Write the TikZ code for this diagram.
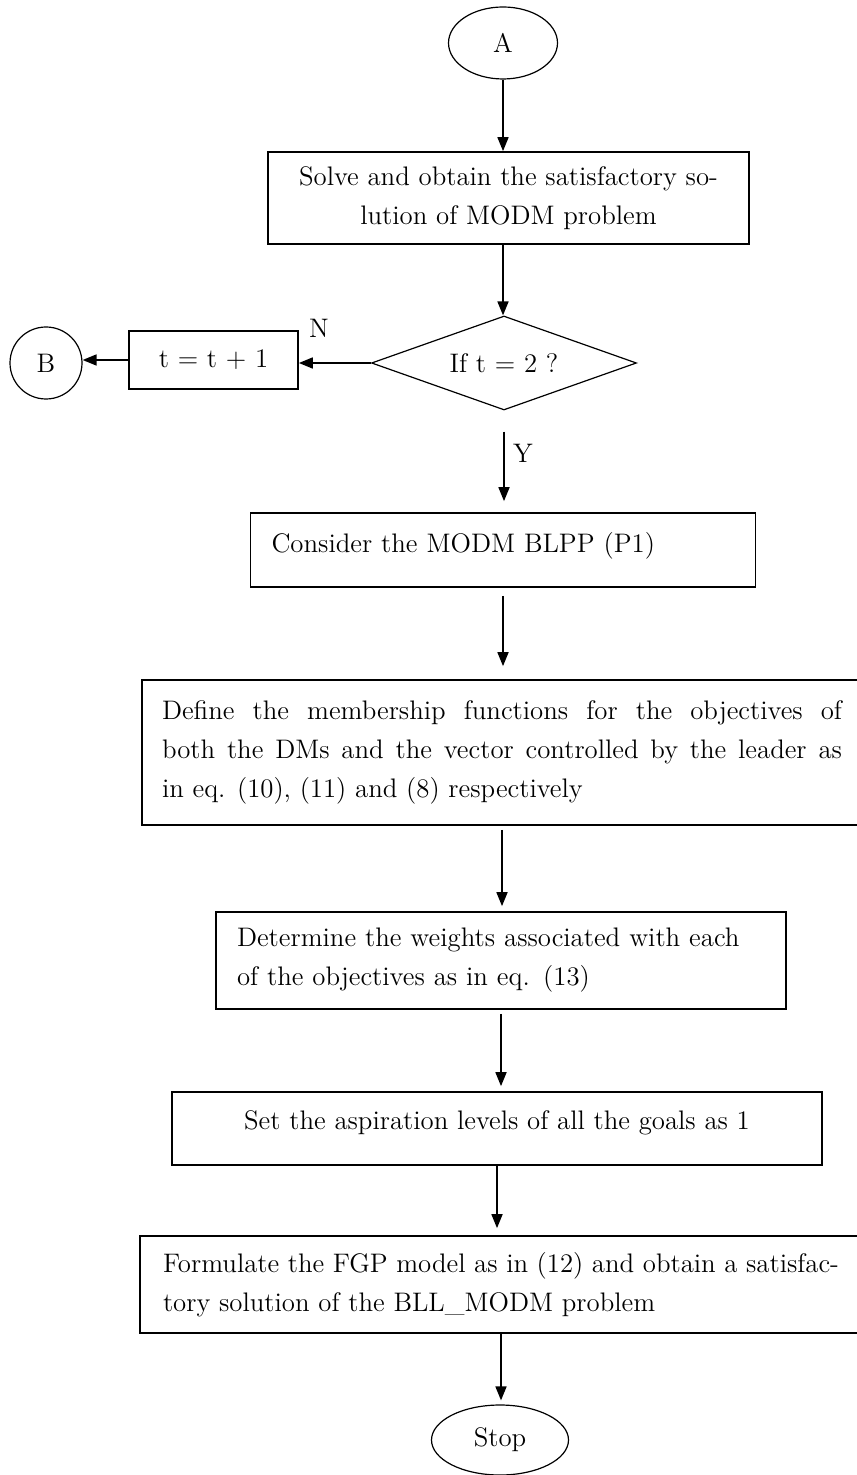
\documentclass[tikz,border=0pt]{standalone}
\usetikzlibrary{shapes.geometric,arrows.meta}
\begin{document}
\begin{tikzpicture}[x=0.5pt,y=-0.5pt,
  font=\fontsize{13.4}{19.5}\selectfont,
  box/.style={draw, line width=0.85pt, inner sep=0pt},
  term/.style={draw, ellipse, line width=0.6pt, inner sep=0pt},
  arr/.style={-{Triangle[length=7pt,width=5.5pt]}, line width=0.85pt}]
\useasboundingbox (0,0) rectangle (856,1475);
\node[term, minimum width=54.5pt, minimum height=36pt] (nA) at (503,43){A};
\node[box, minimum width=240.5pt, minimum height=46pt, align=center] (solve) at (508.5,198){Solve and obtain the satisfactory so-\\lution of MODM problem};
\node[diamond, draw, line width=0.6pt, inner sep=0pt, shape aspect=2.8, minimum width=132.5pt, minimum height=47pt] (test) at (504,363){If t = 2 ?};
\node[box, minimum width=84.5pt, minimum height=29pt] (incr) at (213.5,360){t = t + 1};
\node[draw, circle, line width=0.6pt, minimum size=36pt] (nB) at (46,363){B};
\node[] (nN) at (319,328){N};
\node[] (nY) at (523,453){Y};
\node[box, inner xsep=10.5pt, text width=231.5pt, text depth=8pt, minimum height=37pt, align=left] (consider) at (503,550){Consider the MODM BLPP (P1)};
\node[box, inner xsep=10pt, text width=340pt, minimum height=72.5pt, align=justify] (define) at (502,752.5){Define the membership functions for the objectives of\linebreak both the DMs and the vector controlled by the leader as\linebreak in eq. (10), (11) and (8) respectively};
\node[box, inner xsep=10.5pt, text width=264pt, minimum height=48.5pt, align=left] (weights) at (501,960.5){Determine the weights associated with each\\of the objectives as in eq. (13)};
\node[box, minimum width=325pt, text depth=8pt, minimum height=36.5pt] (goals) at (497,1128.5){Set the aspiration levels of all the goals as 1};
\node[box, inner xsep=11.5pt, text width=338pt, minimum height=48.5pt, align=justify] (fgp) at (501,1284.5){Formulate the FGP model as in (12) and obtain a satisfac-\linebreak tory solution of the BLL\_MODM problem};
\node[term, minimum width=68.5pt, minimum height=35pt] (stop) at (500,1440){Stop};
\draw[arr](nA) -- (nA |- solve.north);
\draw[arr](solve.south -| nA) -- (nA |- test.north);
\draw[arr](test.west) -- (test.west -| incr.east);
\draw[arr](incr.west) -- (incr.west -| nB.east);
\draw[arr, shorten <=10.5pt, shorten >=5.5pt](test.south) -- (test.south |- consider.north);
\draw[arr, shorten <=4pt, shorten >=6.5pt](consider.south) -- (consider.south |- define.north);
\draw[arr, shorten <=2pt, shorten >=2.5pt](define.south) -- (define.south |- weights.north);
\draw[arr, shorten <=2pt, shorten >=2.5pt](weights.south) -- (weights.south |- goals.north);
\draw[arr, shorten >=3.5pt](goals.south) -- (goals.south |- fgp.north);
\draw[arr, shorten >=2pt](fgp.south) -- (fgp.south |- stop.north);
\end{tikzpicture}
\end{document}
